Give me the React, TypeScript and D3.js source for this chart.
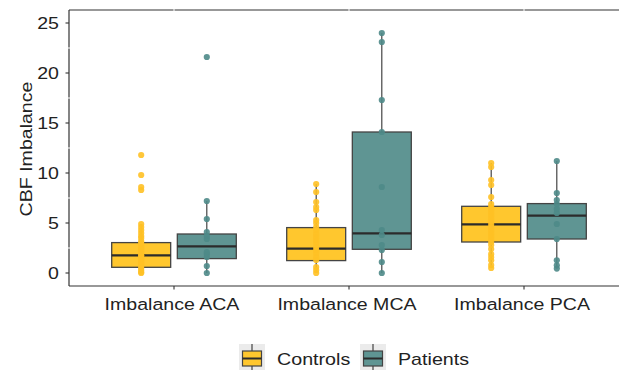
import React from 'react';
import * as d3 from 'd3';

// categories / groups
const regions = ['Imbalance ACA', 'Imbalance MCA', 'Imbalance PCA'];
const groups = ['Controls', 'Patients'];
const yTicks = [0, 5, 10, 15, 20, 25];

// box stats: [lowerWhisker, q1, median, q3, upperWhisker]
const controlsBox = [
  [0, 0.57, 1.77, 3.04, 4.9],
  [0, 1.24, 2.44, 4.54, 8.9],
  [0.5, 3.1, 4.87, 6.67, 11.0],
];
const patientsBox = [
  [0, 1.44, 2.67, 3.9, 7.2],
  [0, 2.37, 3.97, 14.1, 24.0],
  [0.44, 3.4, 5.74, 6.94, 11.2],
];

// individual observations
const controlsACA = [0, 0.1, 0.3, 0.5, 0.7, 0.9, 1.1, 1.3, 1.5, 1.7, 1.8, 2.0, 2.2, 2.4, 2.6, 2.8, 3.0, 3.2, 3.5, 3.7, 4.0, 4.3, 4.6, 4.9, 8.3, 8.6, 9.8, 11.8];
const patientsACA = [0, 0.7, 1.6, 1.9, 2.1, 3.4, 3.7, 4.1, 5.4, 7.2, 21.6];
const controlsMCA = [0, 0.3, 0.6, 1.3, 1.6, 2.0, 2.3, 2.6, 3.0, 3.3, 3.6, 3.9, 4.3, 4.6, 5.0, 5.3, 6.3, 6.6, 7.1, 8.1, 8.9];
const patientsMCA = [0, 1.1, 2.3, 2.8, 3.8, 4.3, 8.6, 14.1, 17.3, 23.1, 24.0];
const controlsPCA = [0.5, 0.8, 1.27, 1.6, 1.9, 2.4, 2.8, 3.1, 3.4, 3.7, 4.0, 4.3, 4.6, 4.9, 5.2, 5.5, 5.8, 6.1, 6.4, 6.6, 6.9, 7.6, 8.8, 9.3, 10.6, 11.0];
const patientsPCA = [0.44, 0.77, 1.27, 3.4, 4.9, 6.0, 6.4, 6.9, 7.3, 8.0, 11.2];

const controlsPoints = [controlsACA, controlsMCA, controlsPCA];
const patientsPoints = [patientsACA, patientsMCA, patientsPCA];

const fills = ['#FFC72E', '#5F9593'];
const pointCols = ['#FFC125', '#4E8A88'];

const W = 619;
const H = 371;
const left = 69;
const right = 629;
const top = 10;
const bottom = 286;
const font = 'Liberation Sans, Arial, sans-serif';
const stretch = 1.2; // text in the picture is wider than plain Arial

// text that is stretched along its baseline
const Label = ({ x, y, rotate = 0, anchor = 'start', size = 16.3, children }: any) => (
  <text
    transform={`translate(${x},${y}) rotate(${rotate}) scale(${stretch},1)`}
    textAnchor={anchor}
    dy="0.36em"
    fontFamily={font}
    fontSize={size}
    fill="#222"
  >
    {children}
  </text>
);

export default function App() {
  const x = d3.scalePoint<string>().domain(regions).range([left, right]).padding(0.6);
  const step = x.step();
  const dodge = d3.scaleBand<string>().domain(groups).range([-step * 0.375, step * 0.375]);
  const boxW = step * 0.337;
  const y = d3.scaleLinear().domain([-1.3, 26.3]).range([bottom, top]);
  const minor = [2.5, 7.5, 12.5, 17.5, 22.5];

  const boxesFor = (gi: number) => {
    const stats = gi === 0 ? controlsBox : patientsBox;
    const pts = gi === 0 ? controlsPoints : patientsPoints;
    return regions.map((r, ri) => {
      const cx = (x(r) as number) + (dodge(groups[gi]) as number) + dodge.bandwidth() / 2;
      const [lo, q1, med, q3, hi] = stats[ri];
      return (
        <g key={r + gi}>
          <line x1={cx} x2={cx} y1={y(hi)} y2={y(q3)} stroke="#333" strokeWidth={1.1} />
          <line x1={cx} x2={cx} y1={y(q1)} y2={y(lo)} stroke="#333" strokeWidth={1.1} />
          <rect x={cx - boxW / 2} y={y(q3)} width={boxW} height={y(q1) - y(q3)}
            fill={fills[gi]} stroke="#444" strokeWidth={1.3} />
          <line x1={cx - boxW / 2} x2={cx + boxW / 2} y1={y(med)} y2={y(med)} stroke="#2b2b2b" strokeWidth={2.2} />
          {pts[ri].map((v, i) => (
            <circle key={i} cx={cx} cy={y(v)} r={3.1} fill={pointCols[gi]} opacity={0.9} />
          ))}
        </g>
      );
    });
  };

  const legendItems = [
    { label: groups[0], kx: 239, tx: 277 },
    { label: groups[1], kx: 360, tx: 398 },
  ];

  return (
    <svg width={W} height={H} style={{ position: 'absolute', left: 0, top: 0, background: '#fff' }}>
      <defs>
        <clipPath id="panel">
          <rect x={left} y={top - 2} width={W - left} height={bottom - top + 4} />
        </clipPath>
      </defs>
      {/* panel border lines */}
      <line x1={left} x2={W} y1={top} y2={top} stroke="#333" strokeWidth={1.2} />
      <line x1={left} x2={left} y1={top} y2={bottom} stroke="#333" strokeWidth={1.2} />
      <line x1={left} x2={W} y1={bottom} y2={bottom} stroke="#333" strokeWidth={1.2} />
      {/* white grid crossing the border */}
      {minor.map((v) => (
        <line key={v} x1={left - 2} x2={W} y1={y(v)} y2={y(v)} stroke="#fff" strokeWidth={1} />
      ))}
      {regions.map((r) => (
        <line key={r} x1={x(r)} x2={x(r)} y1={top - 2} y2={bottom - 2} stroke="#fff" strokeWidth={1} />
      ))}

      <g clipPath="url(#panel)">
        {boxesFor(0)}
        {boxesFor(1)}
      </g>

      {/* y axis */}
      {yTicks.map((t) => (
        <g key={t}>
          <line x1={left - 3.5} x2={left} y1={y(t)} y2={y(t)} stroke="#333" strokeWidth={1.1} />
          <Label x={left - 10} y={y(t)} anchor="end">{t}</Label>
        </g>
      ))}
      <Label x={26} y={(top + bottom) / 2 + 1} rotate={-90} anchor="middle">CBF Imbalance</Label>

      {/* x axis */}
      {regions.map((r) => (
        <g key={r}>
          <line x1={x(r)} x2={x(r)} y1={bottom} y2={bottom + 3.5} stroke="#333" strokeWidth={1.1} />
          <Label x={(x(r) as number) - 2} y={bottom + 18} anchor="middle">{r}</Label>
        </g>
      ))}

      {/* legend */}
      {legendItems.map((it, i) => (
        <g key={it.label}>
          <rect x={it.kx} y={344} width={26} height={26} fill="#EBEBEB" />
          <line x1={it.kx + 13} x2={it.kx + 13} y1={344} y2={370} stroke="#333" strokeWidth={1.1} />
          <rect x={it.kx + 3.5} y={351} width={19} height={15} fill={fills[i]} stroke="#444" strokeWidth={1.2} />
          <line x1={it.kx + 3.5} x2={it.kx + 22.5} y1={358.5} y2={358.5} stroke="#2b2b2b" strokeWidth={2} />
          <Label x={it.tx} y={359.5} size={16.4}>{it.label}</Label>
        </g>
      ))}
    </svg>
  );
}
